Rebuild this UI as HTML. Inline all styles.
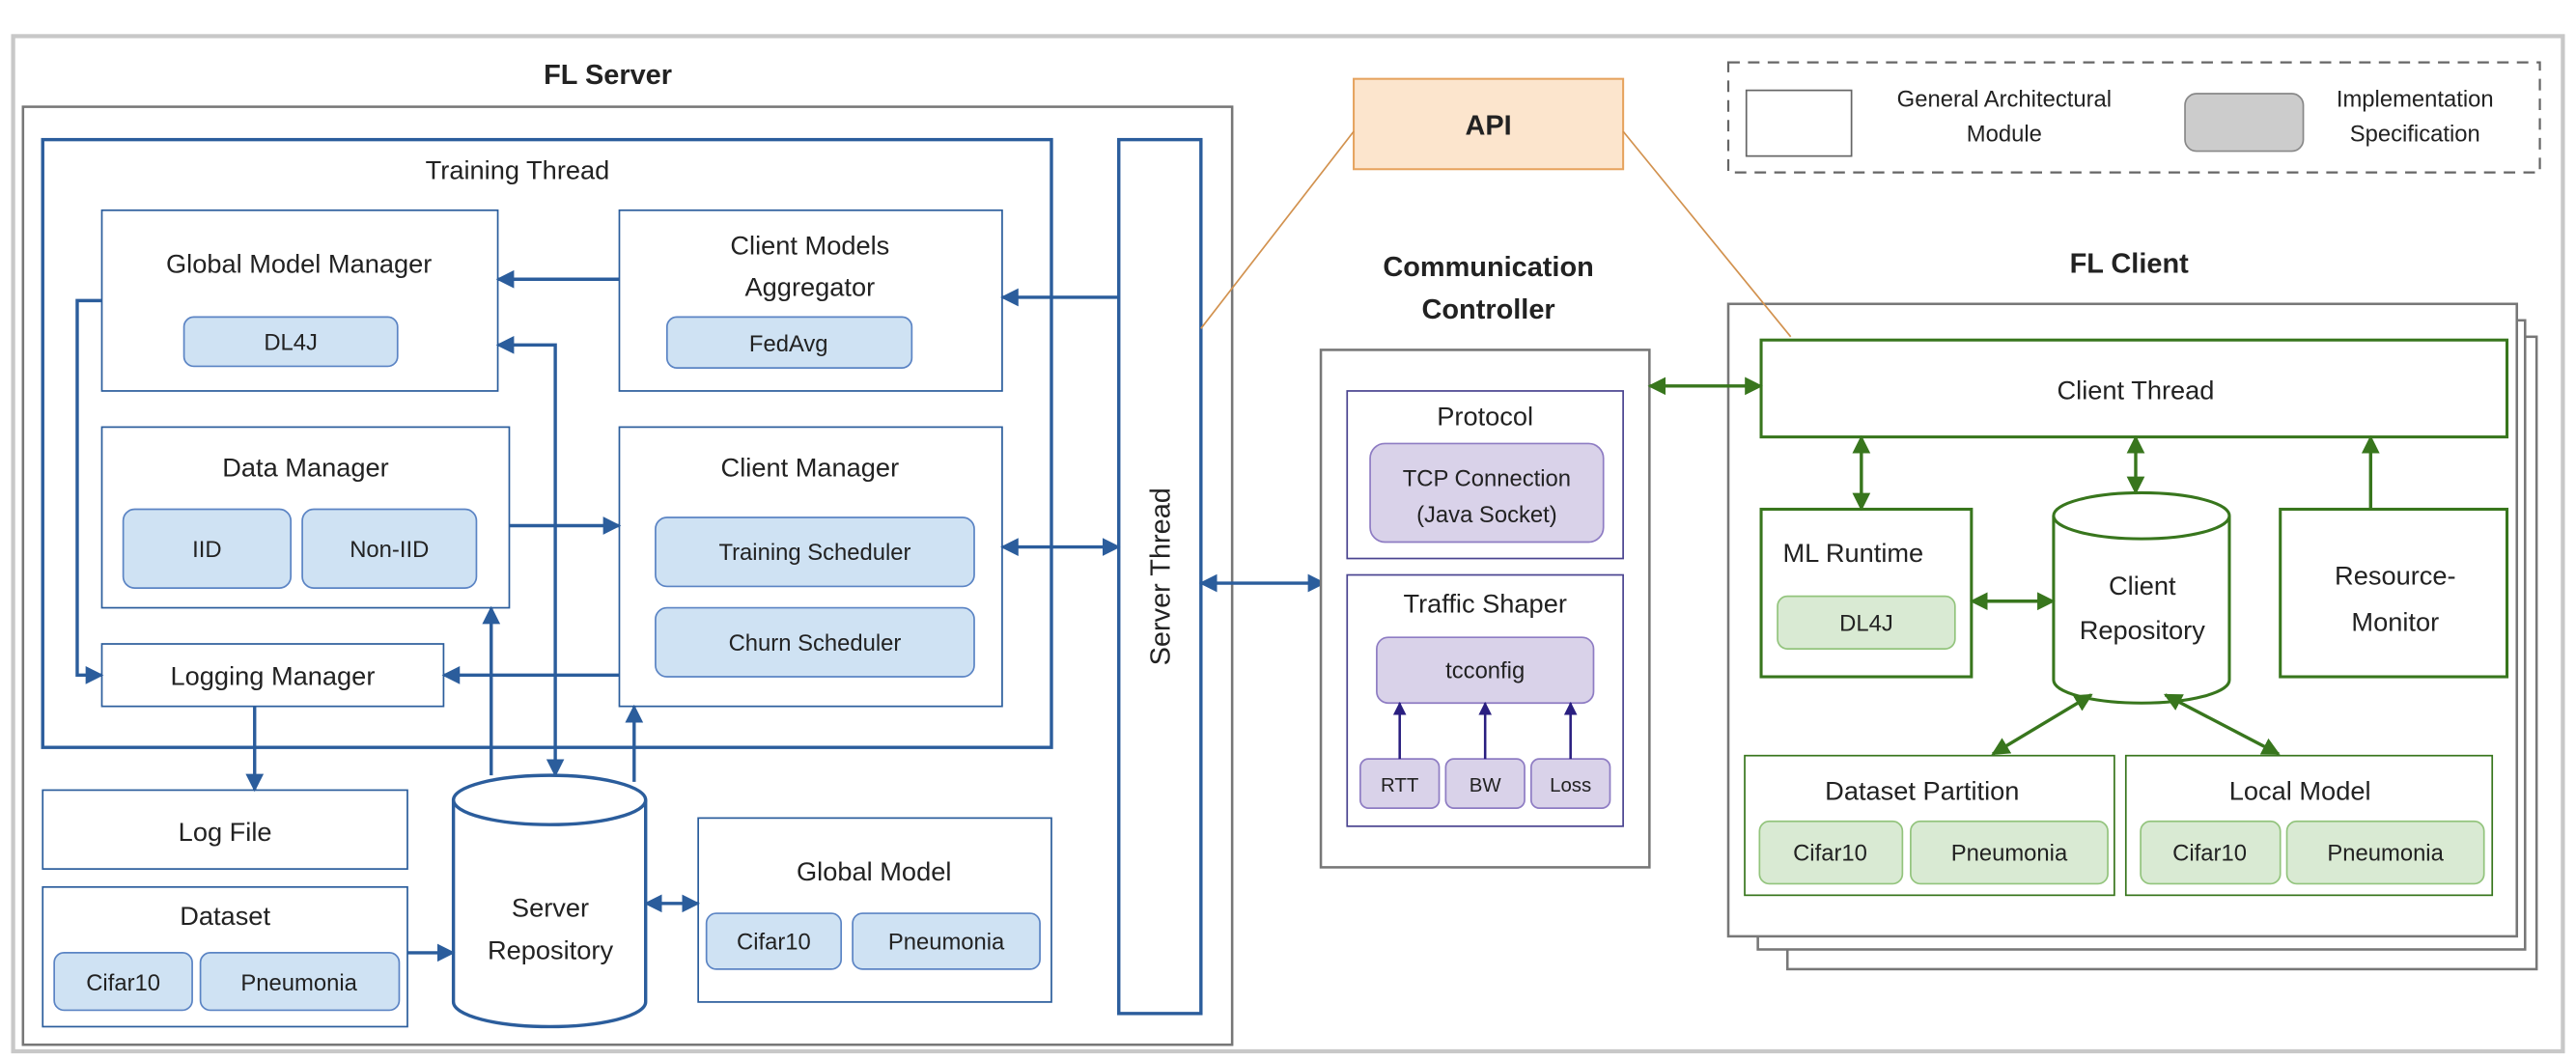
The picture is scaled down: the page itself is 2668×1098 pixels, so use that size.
<!DOCTYPE html>
<html><head><meta charset="utf-8"><style>
html,body{margin:0;padding:0;background:#fff;}
svg{display:block;}
text{font-family:"Liberation Sans",sans-serif;fill:#222;}
</style></head><body>
<svg width="2668" height="1098" viewBox="0 0 1568 645.3" preserveAspectRatio="none" xmlns="http://www.w3.org/2000/svg">
<defs>
<marker id="abl" viewBox="0 0 10 10" refX="9" refY="5" markerWidth="11" markerHeight="12" orient="auto-start-reverse" markerUnits="userSpaceOnUse"><path d="M0,0 L10,5 L0,10 z" fill="#2b5d9c"/></marker>
<marker id="ag" viewBox="0 0 10 10" refX="9" refY="5" markerWidth="11" markerHeight="12" orient="auto-start-reverse" markerUnits="userSpaceOnUse"><path d="M0,0 L10,5 L0,10 z" fill="#38761d"/></marker>
<marker id="ap" viewBox="0 0 10 10" refX="9" refY="5" markerWidth="8" markerHeight="9" orient="auto-start-reverse" markerUnits="userSpaceOnUse"><path d="M0,0 L10,5 L0,10 z" fill="#2a1f80"/></marker>
</defs>
<rect x="8" y="22" width="1552" height="618" fill="#fff" stroke="#c8c8c8" stroke-width="2.5"/>

<text x="370" y="51" font-size="17" font-weight="bold" text-anchor="middle">FL Server</text>
<rect x="14" y="65" width="736" height="571" fill="none" stroke="#777" stroke-width="1.5"/>
<rect x="26" y="85" width="614" height="370" fill="none" stroke="#2b5d9c" stroke-width="2"/>
<text x="315" y="109" font-size="16" text-anchor="middle">Training Thread</text>

<g fill="#fff" stroke="#2b5d9c" stroke-width="1">
<rect x="62" y="128" width="241" height="110"/>
<rect x="377" y="128" width="233" height="110"/>
<rect x="62" y="260" width="248" height="110"/>
<rect x="377" y="260" width="233" height="170"/>
<rect x="62" y="392" width="208" height="38"/>
<rect x="26" y="481" width="222" height="48"/>
<rect x="26" y="540" width="222" height="85"/>
<rect x="425" y="498" width="215" height="112"/>
</g>
<rect x="681" y="85" width="50" height="532" fill="#fff" stroke="#2b5d9c" stroke-width="2"/>
<text transform="translate(712,351) rotate(-90)" font-size="17" text-anchor="middle">Server Thread</text>

<g fill="#cfe2f3" stroke="#5b84c4" stroke-width="1">
<rect x="112" y="193" width="130" height="30" rx="6"/>
<rect x="406" y="193" width="149" height="31" rx="6"/>
<rect x="75" y="310" width="102" height="48" rx="7"/>
<rect x="184" y="310" width="106" height="48" rx="7"/>
<rect x="399" y="315" width="194" height="42" rx="7"/>
<rect x="399" y="370" width="194" height="42" rx="7"/>
<rect x="33" y="580" width="84" height="35" rx="6"/>
<rect x="122" y="580" width="121" height="35" rx="6"/>
<rect x="430" y="556" width="82" height="34" rx="6"/>
<rect x="519" y="556" width="114" height="34" rx="6"/>
</g>
<path d="M276,487 L276,610 A58.5,15 0 0 0 393,610 L393,487" fill="#fff" stroke="#2b5d9c" stroke-width="2"/>
<ellipse cx="334.5" cy="487" rx="58.5" ry="15" fill="#fff" stroke="#2b5d9c" stroke-width="2"/>
<g font-size="16" text-anchor="middle">
<text x="182" y="166">Global Model Manager</text>
<text x="493" y="155">Client Models</text>
<text x="493" y="180">Aggregator</text>
<text x="186" y="290">Data Manager</text>
<text x="493" y="290">Client Manager</text>
<text x="166" y="417">Logging Manager</text>
<text x="137" y="512">Log File</text>
<text x="137" y="563">Dataset</text>
<text x="532" y="536">Global Model</text>
<text x="335" y="558">Server</text>
<text x="335" y="584">Repository</text>
</g>
<g font-size="14" text-anchor="middle">
<text x="177" y="213">DL4J</text>
<text x="480" y="214">FedAvg</text>
<text x="126" y="339">IID</text>
<text x="237" y="339">Non-IID</text>
<text x="496" y="341">Training Scheduler</text>
<text x="496" y="396">Churn Scheduler</text>
<text x="75" y="603">Cifar10</text>
<text x="182" y="603">Pneumonia</text>
<text x="471" y="578">Cifar10</text>
<text x="576" y="578">Pneumonia</text>
</g>

<g fill="none" stroke="#2b5d9c" stroke-width="2">
<path d="M681,181 L610,181" marker-end="url(#abl)"/>
<path d="M377,170 L303,170" marker-end="url(#abl)"/>
<path d="M610,333 L681,333" marker-start="url(#abl)" marker-end="url(#abl)"/>
<path d="M731,355 L806,355" marker-start="url(#abl)" marker-end="url(#abl)"/>
<path d="M310,320 L377,320" marker-end="url(#abl)"/>
<path d="M377,411 L270,411" marker-end="url(#abl)"/>
<path d="M62,183 L47,183 L47,411 L62,411" marker-end="url(#abl)"/>
<path d="M155,430 L155,481" marker-end="url(#abl)"/>
<path d="M248,580 L276,580" marker-end="url(#abl)"/>
<path d="M393,550 L425,550" marker-start="url(#abl)" marker-end="url(#abl)"/>
<path d="M299,472 L299,370" marker-end="url(#abl)"/>
<path d="M303,210 L338,210 L338,472" marker-start="url(#abl)" marker-end="url(#abl)"/>
<path d="M386,476 L386,430" marker-end="url(#abl)"/>
</g>

<rect x="824" y="48" width="164" height="55" fill="#fce5cd" stroke="#e6a35e" stroke-width="1.2"/>
<text x="906" y="82" font-size="17" font-weight="bold" text-anchor="middle">API</text>

<text x="906" y="168" font-size="17" font-weight="bold" text-anchor="middle">Communication</text>
<text x="906" y="194" font-size="17" font-weight="bold" text-anchor="middle">Controller</text>
<rect x="804" y="213" width="200" height="315" fill="#fff" stroke="#777" stroke-width="1.5"/>
<rect x="820" y="238" width="168" height="102" fill="#fff" stroke="#4a4490" stroke-width="1"/>
<rect x="820" y="350" width="168" height="153" fill="#fff" stroke="#4a4490" stroke-width="1"/>
<g fill="#d9d2e9" stroke="#8e7cc3" stroke-width="1">
<rect x="834" y="270" width="142" height="60" rx="9"/>
<rect x="838" y="388" width="132" height="40" rx="7"/>
<rect x="828" y="462" width="48" height="30" rx="5"/>
<rect x="880" y="462" width="48" height="30" rx="5"/>
<rect x="932" y="462" width="48" height="30" rx="5"/>
</g>
<g font-size="16" text-anchor="middle">
<text x="904" y="259">Protocol</text>
<text x="904" y="373">Traffic Shaper</text>
</g>
<g font-size="14" text-anchor="middle">
<text x="905" y="296">TCP Connection</text>
<text x="905" y="318">(Java Socket)</text>
<text x="904" y="413">tcconfig</text>
</g>
<g font-size="12" text-anchor="middle">
<text x="852" y="482">RTT</text>
<text x="904" y="482">BW</text>
<text x="956" y="482">Loss</text>
</g>
<g stroke="#2a1f80" stroke-width="1.5">
<path d="M852,462 L852,428" marker-end="url(#ap)"/>
<path d="M904,462 L904,428" marker-end="url(#ap)"/>
<path d="M956,462 L956,428" marker-end="url(#ap)"/>
</g>

<rect x="1052" y="38" width="494" height="67" fill="none" stroke="#666" stroke-width="1.3" stroke-dasharray="7,5"/>
<rect x="1063" y="55" width="64" height="40" fill="#fff" stroke="#666" stroke-width="1"/>
<rect x="1330" y="57" width="72" height="35" rx="7" fill="#cccccc" stroke="#888" stroke-width="1"/>
<g font-size="14" text-anchor="middle">
<text x="1220" y="65">General Architectural</text>
<text x="1220" y="86">Module</text>
<text x="1470" y="65">Implementation</text>
<text x="1470" y="86">Specification</text>
</g>

<text x="1296" y="166" font-size="17" font-weight="bold" text-anchor="middle">FL Client</text>
<rect x="1088" y="205" width="456" height="385" fill="#fff" stroke="#777" stroke-width="1.5"/>
<rect x="1070" y="195" width="467" height="383" fill="#fff" stroke="#777" stroke-width="1.5"/>
<rect x="1052" y="185" width="480" height="385" fill="#fff" stroke="#777" stroke-width="1.5"/>

<g stroke="#d2924f" stroke-width="1" fill="none">
<path d="M824,80 L731,200"/>
<path d="M988,80 L1090,205"/>
</g>

<g fill="#fff" stroke="#38761d" stroke-width="1.8">
<rect x="1072" y="207" width="454" height="59"/>
<rect x="1072" y="310" width="128" height="102"/>
<rect x="1388" y="310" width="138" height="102"/>
</g>
<g fill="#fff" stroke="#38761d" stroke-width="1">
<rect x="1062" y="460" width="225" height="85"/>
<rect x="1294" y="460" width="223" height="85"/>
</g>
<path d="M1250,314 L1250,414 A53.5,14 0 0 0 1357,414 L1357,314" fill="#fff" stroke="#38761d" stroke-width="1.8"/>
<ellipse cx="1303.5" cy="314" rx="53.5" ry="14" fill="#fff" stroke="#38761d" stroke-width="1.8"/>

<g fill="#d9ead3" stroke="#93c47d" stroke-width="1">
<rect x="1082" y="363" width="108" height="32" rx="6"/>
<rect x="1071" y="500" width="87" height="38" rx="6"/>
<rect x="1163" y="500" width="120" height="38" rx="6"/>
<rect x="1303" y="500" width="85" height="38" rx="6"/>
<rect x="1392" y="500" width="120" height="38" rx="6"/>
</g>
<g font-size="16" text-anchor="middle">
<text x="1300" y="243">Client Thread</text>
<text x="1128" y="342">ML Runtime</text>
<text x="1304" y="362">Client</text>
<text x="1304" y="389">Repository</text>
<text x="1458" y="356">Resource-</text>
<text x="1458" y="384">Monitor</text>
<text x="1170" y="487">Dataset Partition</text>
<text x="1400" y="487">Local Model</text>
</g>
<g font-size="14" text-anchor="middle">
<text x="1136" y="384">DL4J</text>
<text x="1114" y="524">Cifar10</text>
<text x="1223" y="524">Pneumonia</text>
<text x="1345" y="524">Cifar10</text>
<text x="1452" y="524">Pneumonia</text>
</g>
<g fill="none" stroke="#38761d" stroke-width="2">
<path d="M1004,235 L1072,235" marker-start="url(#ag)" marker-end="url(#ag)"/>
<path d="M1133,266 L1133,310" marker-start="url(#ag)" marker-end="url(#ag)"/>
<path d="M1300,266 L1300,300" marker-start="url(#ag)" marker-end="url(#ag)"/>
<path d="M1443,310 L1443,266" marker-end="url(#ag)"/>
<path d="M1200,366 L1250,366" marker-start="url(#ag)" marker-end="url(#ag)"/>
<path d="M1273,423 L1213,459" marker-start="url(#ag)" marker-end="url(#ag)"/>
<path d="M1318,423 L1387,459" marker-start="url(#ag)" marker-end="url(#ag)"/>
</g>
</svg>
</body></html>
